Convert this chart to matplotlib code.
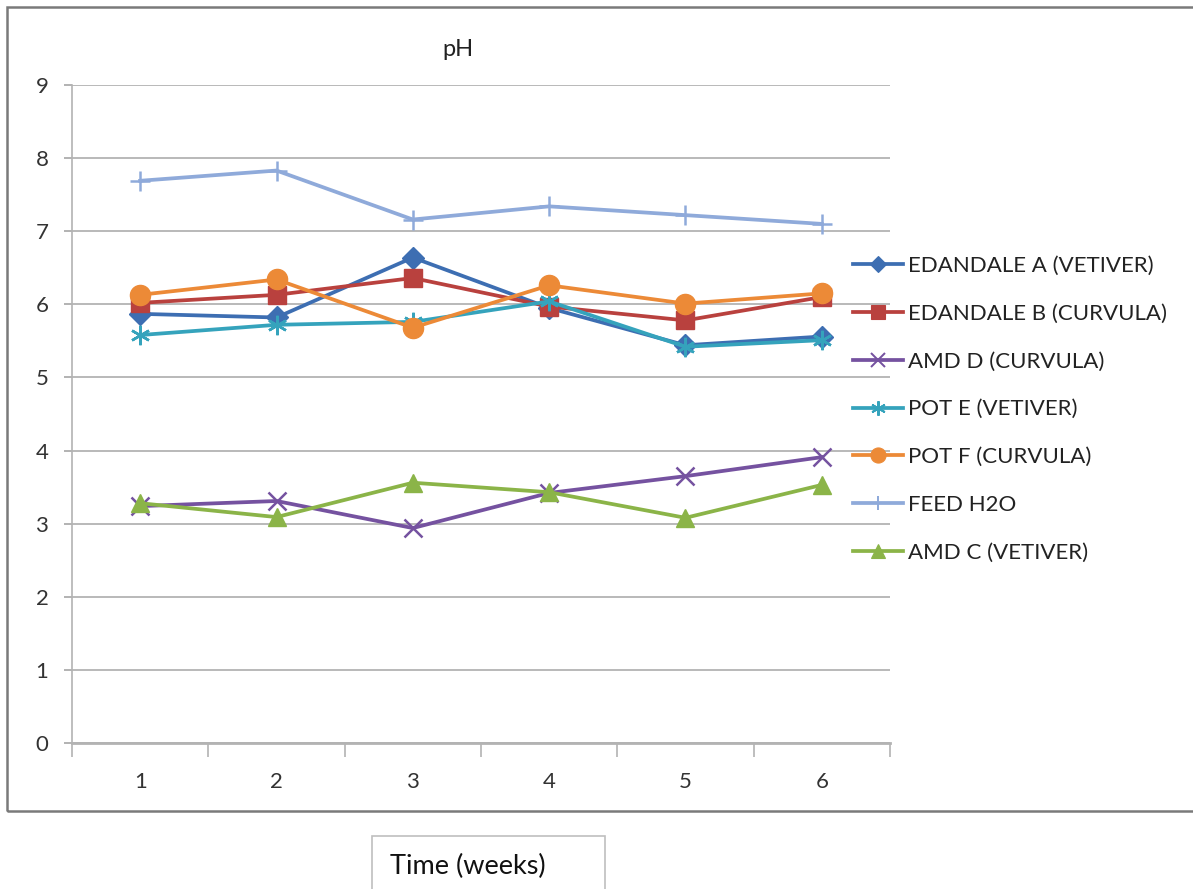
import matplotlib
matplotlib.use("Agg")
import matplotlib.pyplot as plt
from matplotlib.patches import Rectangle
from matplotlib.lines import Line2D

plt.rcParams['font.family'] = ['Lato', 'DejaVu Sans']

weeks = [1, 2, 3, 4, 5, 6]
edandale_a = [5.87, 5.82, 6.64, 5.95, 5.44, 5.56]
edandale_b = [6.02, 6.13, 6.36, 5.97, 5.78, 6.10]
amd_d = [3.24, 3.31, 2.94, 3.42, 3.65, 3.91]
pot_e = [5.58, 5.72, 5.76, 6.04, 5.42, 5.51]
pot_f = [6.13, 6.34, 5.68, 6.26, 6.01, 6.15]
feed_h2o = [7.69, 7.83, 7.16, 7.34, 7.22, 7.10]
amd_c = [3.28, 3.09, 3.56, 3.43, 3.08, 3.53]

series_names = ["EDANDALE A (VETIVER)", "EDANDALE B (CURVULA)", "AMD D (CURVULA)",
                "POT E (VETIVER)", "POT F (CURVULA)", "FEED H2O", "AMD C (VETIVER)"]
series_values = [edandale_a, edandale_b, amd_d, pot_e, pot_f, feed_h2o, amd_c]
colors = ['#3D6EB2', '#B9413E', '#7552A0', '#35A3BC', '#EC8A37', '#8FAADA', '#8BB448']
markers = ['D', 's', 'x', (6, 2, 0), 'o', '+', '^']
msizes = [11.5, 12.5, 13, 14, 14.5, 14, 13]
mews = [1, 1, 1.8, 1.8, 1, 1.8, 1]

fig = plt.figure(figsize=(11.93, 8.89), dpi=100)
ax = fig.add_axes([72/1193, 146/889, 818/1193, 658/889])

for name, vals, c, m, ms, mew in zip(series_names, series_values, colors, markers, msizes, mews):
    ax.plot(weeks, vals, color=c, lw=2.7, marker=m, markersize=ms,
            markeredgewidth=mew, markeredgecolor=c, markerfacecolor=c, label=name,
            clip_on=False)

ax.set_xlim(0.5, 6.5)
ax.set_ylim(0, 9)
ax.set_yticks(range(0, 10))
ax.yaxis.grid(True, color='#b3b3b3', lw=1.3)
ax.set_axisbelow(True)
ax.tick_params(axis='y', length=6, width=1.2, color='#a6a6a6', pad=11, labelsize=16,
               labelcolor='#333333')
ax.set_xticks([0.5, 1.5, 2.5, 3.5, 4.5, 5.5, 6.5])
ax.set_xticklabels([])
ax.set_xticks(weeks, minor=True)
ax.set_xticklabels([str(w) for w in weeks], minor=True)
ax.tick_params(axis='x', which='major', length=10, width=1.2, color='#b3b3b3')
ax.tick_params(axis='x', which='minor', length=0, pad=21, labelsize=16, labelcolor='#333333')
for s in ['top', 'right']:
    ax.spines[s].set_visible(False)
ax.spines['left'].set_color('#b3b3b3')
ax.spines['left'].set_linewidth(1.2)
ax.spines['bottom'].set_color('#b3b3b3')
ax.spines['bottom'].set_linewidth(2)

fig.text(458/1193, 1 - 49/889, 'pH', ha='center', va='center', fontsize=17, color='#222222')

handles = [Line2D([0], [0], color=c, lw=2.7, marker=m, markersize=ms * 0.75,
                  markeredgewidth=mew * 0.8, markeredgecolor=c, markerfacecolor=c)
           for c, m, ms, mew in zip(colors, markers, msizes, mews)]
leg = fig.legend(handles, series_names, loc='upper left',
                 bbox_to_anchor=(853/1193, 1 - 256/889), frameon=False,
                 fontsize=16, handlelength=2.25, handletextpad=0.22, labelspacing=1.25,
                 borderaxespad=0, borderpad=0)
for t in leg.get_texts():
    t.set_color('#222222')

# outer chart border
fig.add_artist(Rectangle((7/1193, 1 - 811/889), 1.2, 804/889, transform=fig.transFigure,
                         fill=False, edgecolor='#7a7a7a', lw=1.8, clip_on=False))
# x-axis title box
fig.add_artist(Rectangle((372/1193, -0.02), 233/1193, (889-836)/889 + 0.02,
                         transform=fig.transFigure, fill=False, edgecolor='#bfbfbf',
                         lw=1.2, clip_on=False))
fig.text(390/1193, 1 - 866/889, 'Time (weeks)', ha='left', va='center', fontsize=19.5,
         color='#111111')

fig.savefig('out.png', dpi=100)
